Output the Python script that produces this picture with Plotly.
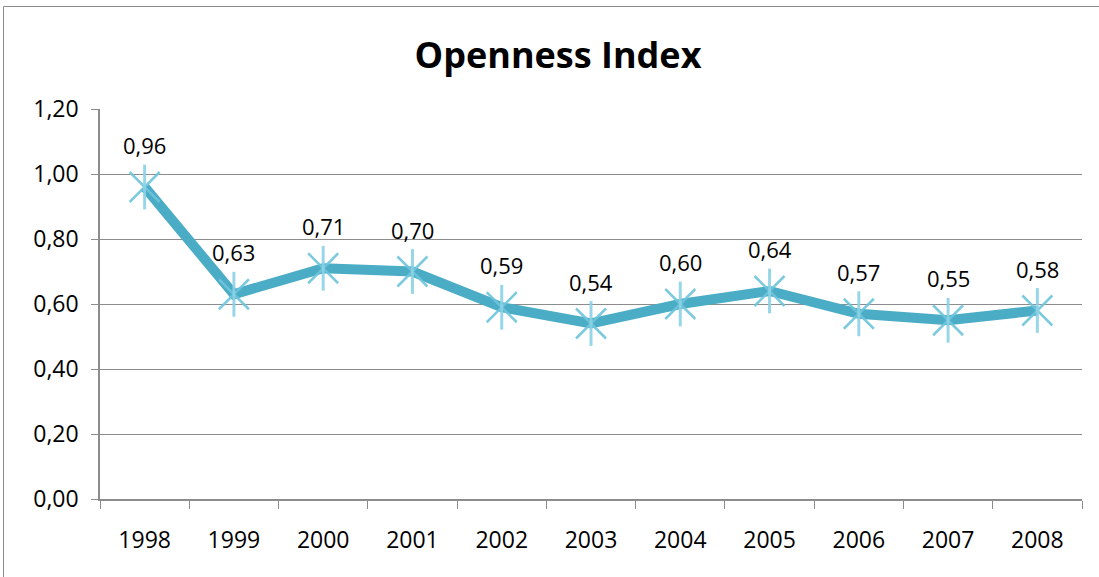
import plotly.graph_objects as go

years = ["1998", "1999", "2000", "2001", "2002", "2003", "2004", "2005", "2006", "2007", "2008"]
openness = [0.96, 0.63, 0.71, 0.70, 0.59, 0.54, 0.60, 0.64, 0.57, 0.55, 0.58]
y_ticks = [0.0, 0.2, 0.4, 0.6, 0.8, 1.0, 1.2]
title_text = "Openness Index"

W, H = 1099, 577
L, R, T, B = 100, 17, 109, 78
pw, ph = W - L - R, H - T - B

fig = go.Figure()
fig.add_trace(go.Scatter(
    x=years, y=openness, mode="lines",
    line=dict(color="#4BACC6", width=10),
    hoverinfo="skip", showlegend=False,
))
fig.add_trace(go.Scatter(
    x=years, y=openness, mode="markers",
    marker=dict(symbol="x-thin-open", size=30, color="rgba(110,196,220,0.9)",
                line=dict(color="rgba(110,196,220,0.9)", width=2.5)),
    hoverinfo="skip", showlegend=False,
))
fig.add_trace(go.Scatter(
    x=years, y=openness, mode="markers",
    marker=dict(symbol="line-ns-open", size=32, color="rgba(140,210,228,0.9)",
                line=dict(color="rgba(140,210,228,0.9)", width=3)),
    hoverinfo="skip", showlegend=False,
))

for i, v in enumerate(openness):
    fig.add_annotation(x=i, y=v, xref="x", yref="y",
                       text=f"{v:.2f}".replace(".", ","),
                       showarrow=False, yshift=42,
                       font=dict(family="Open Sans", size=22, color="#000"))

# outer chart frame (left and top edges only are visible)
fx0 = (3.5 - L) / pw
fy1 = (H - 6.5 - B) / ph
fx1 = (W + 40 - L) / pw
fy0 = -(H + 40 - T - ph) / ph
fig.add_shape(type="line", xref="paper", yref="paper", x0=fx0, x1=fx1, y0=fy1, y1=fy1,
              line=dict(color="#8c8c8c", width=1), layer="below")
fig.add_shape(type="line", xref="paper", yref="paper", x0=fx0, x1=fx0, y0=fy0, y1=fy1,
              line=dict(color="#8c8c8c", width=1), layer="below")

fig.update_layout(
    width=W, height=H,
    margin=dict(l=L, r=R, t=T, b=B, pad=0),
    paper_bgcolor="white", plot_bgcolor="white",
    separators=",.",
    title=dict(text="<b>" + title_text + "</b>", x=(413 + 703) / 2 / W, xanchor="center",
               y=1 - 55 / H, yanchor="middle",
               font=dict(family="Open Sans", size=36, color="#000")),
    xaxis=dict(type="category", tickson="boundaries", ticks="outside", ticklen=8,
               tickcolor="#8c8c8c", showline=True, linecolor="#8c8c8c", linewidth=1.5,
               showgrid=False, tickfont=dict(family="Open Sans", size=23, color="#000"),
               ticklabelstandoff=20, range=[-0.5, len(years) - 0.5]),
    yaxis=dict(range=[0, 1.2], tickvals=y_ticks,
               ticktext=[f"{t:.2f}".replace(".", ",") for t in y_ticks],
               ticks="outside", ticklen=7, tickcolor="#8c8c8c",
               showline=True, linecolor="#8c8c8c", linewidth=1.5,
               showgrid=True, gridcolor="#8c8c8c", gridwidth=1, zeroline=False,
               tickfont=dict(family="Open Sans", size=23, color="#000"),
               ticklabelstandoff=8),
)

fig.write_html("out.html", config={"displayModeBar": False},
               post_script="document.body.style.margin='0px';")
